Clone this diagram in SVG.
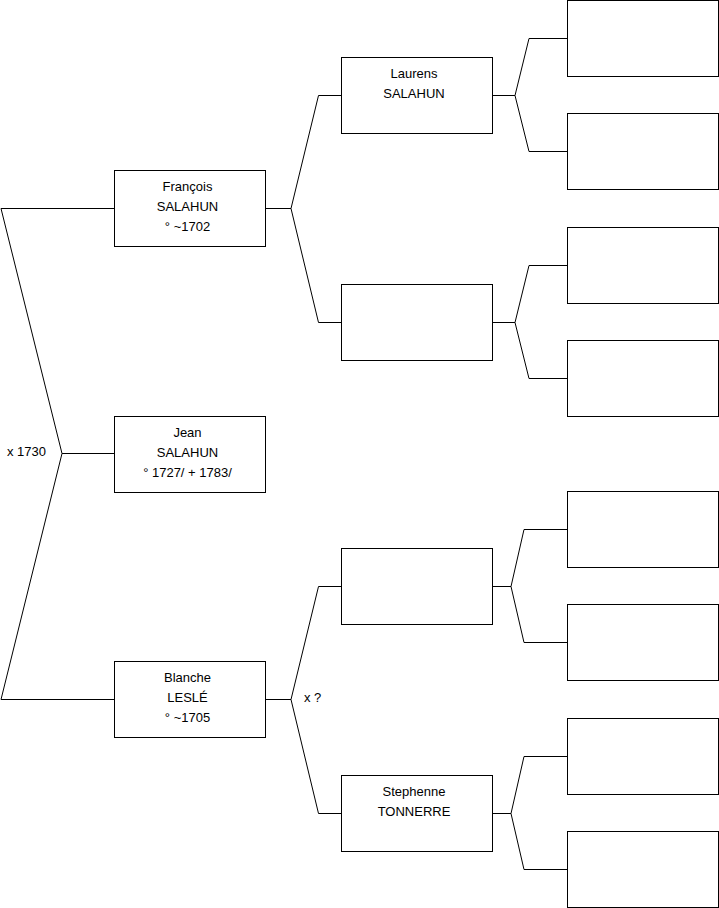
<svg xmlns="http://www.w3.org/2000/svg" width="719" height="908" viewBox="0 0 719 908">
<style>
.box{fill:#fff;stroke:#000;stroke-width:1}
.c{fill:none;stroke:#000;stroke-width:1}
text{font-family:"Liberation Sans",Arial,sans-serif;font-size:13px;fill:#000}
.m{text-anchor:middle}
</style>
<rect width="719" height="908" fill="#fff"/>
<g id="connectors">
<polyline class="c" points="114,208.5 1,208.5 62,453.5 1,699.5 114,699.5"/>
<line class="c" x1="62" y1="453.5" x2="114" y2="453.5"/>
<polyline class="c" points="341,95.5 318.5,95.5 291,208.5 318.5,322.5 341,322.5"/>
<line class="c" x1="265" y1="208.5" x2="291" y2="208.5"/>
<polyline class="c" points="567,38.5 529,38.5 515,95.5 529,151.5 567,151.5"/>
<line class="c" x1="492" y1="95.5" x2="515" y2="95.5"/>
<polyline class="c" points="567,265.5 529,265.5 515,322.5 529,378.5 567,378.5"/>
<line class="c" x1="492" y1="322.5" x2="515" y2="322.5"/>
<polyline class="c" points="341,586.5 318.5,586.5 291,699.5 318.5,813.5 341,813.5"/>
<line class="c" x1="265" y1="699.5" x2="291" y2="699.5"/>
<polyline class="c" points="567,529.5 524,529.5 511,586.5 524,642.5 567,642.5"/>
<line class="c" x1="492" y1="586.5" x2="511" y2="586.5"/>
<polyline class="c" points="567,756.5 524,756.5 511,813.5 524,869.5 567,869.5"/>
<line class="c" x1="492" y1="813.5" x2="511" y2="813.5"/>
<text x="7" y="456">x 1730</text>
<text x="304" y="702">x ?</text>
</g>
<g id="jean"><rect class="box" x="114.5" y="416.5" width="151" height="76"/>
<text class="m" x="187.5" y="437">Jean</text><text class="m" x="187.5" y="457">SALAHUN</text><text class="m" x="187.5" y="477">° 1727/ + 1783/</text></g>
<g id="francois"><rect class="box" x="114.5" y="170.5" width="151" height="76"/>
<text class="m" x="187.5" y="191">François</text><text class="m" x="187.5" y="211">SALAHUN</text><text class="m" x="187.5" y="231">° ~1702</text></g>
<g id="blanche"><rect class="box" x="114.5" y="661.5" width="151" height="76"/>
<text class="m" x="187.5" y="682">Blanche</text><text class="m" x="187.5" y="702">LESLÉ</text><text class="m" x="187.5" y="722">° ~1705</text></g>
<g id="laurens"><rect class="box" x="341.5" y="57.5" width="151" height="76"/>
<text class="m" x="414" y="78">Laurens</text><text class="m" x="414" y="98">SALAHUN</text></g>
<g id="ff2"><rect class="box" x="341.5" y="284.5" width="151" height="76"/></g>
<g id="bf"><rect class="box" x="341.5" y="548.5" width="151" height="76"/></g>
<g id="stephenne"><rect class="box" x="341.5" y="775.5" width="151" height="76"/>
<text class="m" x="414" y="796">Stephenne</text><text class="m" x="414" y="816">TONNERRE</text></g>
<g id="g1"><rect class="box" x="567.5" y="0.5" width="151" height="76"/></g>
<g id="g2"><rect class="box" x="567.5" y="113.5" width="151" height="76"/></g>
<g id="g3"><rect class="box" x="567.5" y="227.5" width="151" height="76"/></g>
<g id="g4"><rect class="box" x="567.5" y="340.5" width="151" height="76"/></g>
<g id="g5"><rect class="box" x="567.5" y="491.5" width="151" height="76"/></g>
<g id="g6"><rect class="box" x="567.5" y="604.5" width="151" height="76"/></g>
<g id="g7"><rect class="box" x="567.5" y="718.5" width="151" height="76"/></g>
<g id="g8"><rect class="box" x="567.5" y="831.5" width="151" height="76"/></g>
</svg>
